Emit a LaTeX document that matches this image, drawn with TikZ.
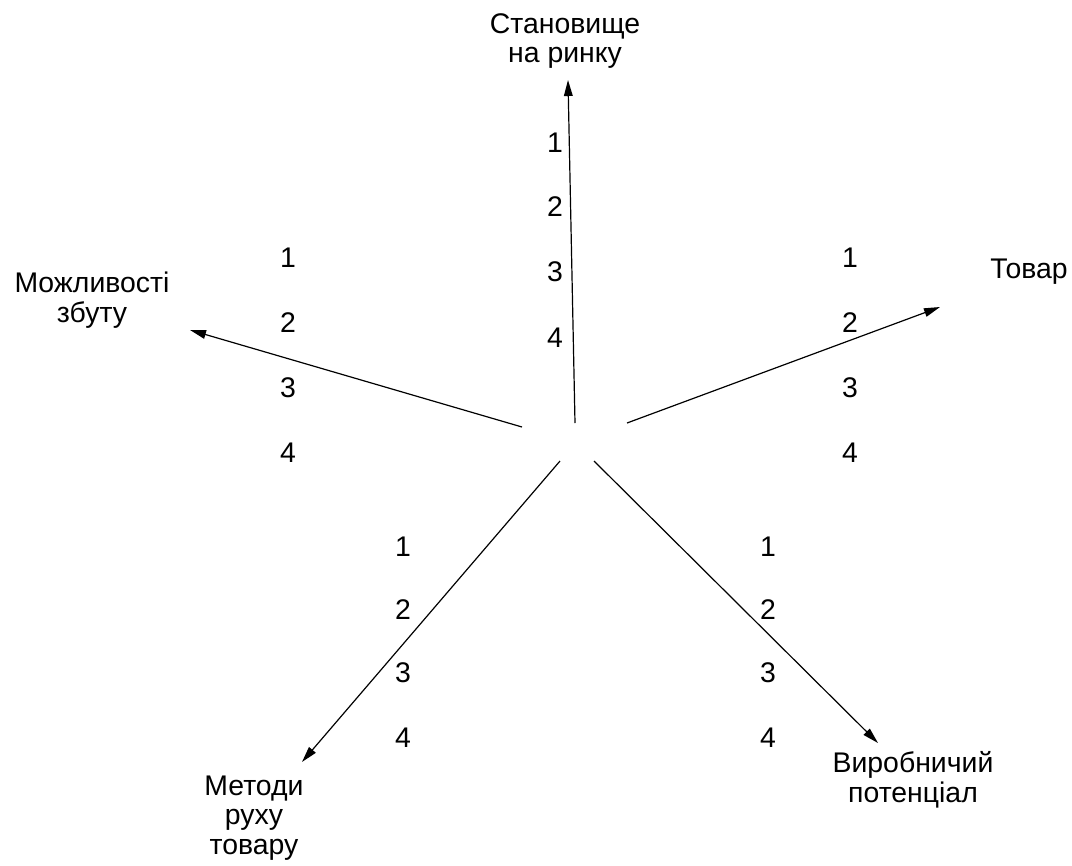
\documentclass[tikz,border=0pt]{standalone}
\usepackage{fontspec}
\setmainfont{Liberation Sans}
\usetikzlibrary{arrows.meta}

\begin{document}
\begin{tikzpicture}[
      x=0.75pt, y=-0.75pt,
      font=\fontsize{21.3}{22.3}\selectfont,
      lbl/.style={align=center, inner sep=0pt},
      num/.style={inner sep=0pt},
      ar/.style={-{Triangle[length=12pt,width=6.5pt]}, line width=0.9pt},
    ]
    \useasboundingbox (0,0) rectangle (1072,865);

    % axis labels
    \node[lbl] (rynok) at (565,41) {Становище\\на ринку};
    \node[lbl] (tovar) at (1029,272) {Товар};
    \node[lbl] (zbut) at (92,300) {Можливості\\збуту};
    \node[lbl] (metody) at (254,818) {Методи\\руху\\товару};
    \node[lbl] (potencial) at (913,780) {Виробничий\\потенціал};

    % arrow ends
    \coordinate (o1) at (575,423); \coordinate (e1) at (568,80);
    \coordinate (o2) at (627,423); \coordinate (e2) at (940,307);
    \coordinate (o3) at (522,427); \coordinate (e3) at (190,330);
    \coordinate (o4) at (560,461); \coordinate (e4) at (302,762);
    \coordinate (o5) at (594,461); \coordinate (e5) at (878,743);

    \draw[ar] (o1) -- (e1);
    \draw[ar] (o2) -- (e2);
    \draw[ar] (o3) -- (e3);
    \draw[ar] (o4) -- (e4);
    \draw[ar] (o5) -- (e5);

    % scale marks
    \foreach \i/\y in {1/143,2/207,3/272,4/338}
      \node[num] (up\i) at (555,\y) {\i};
    \foreach \i/\y in {1/258,2/323,3/388,4/453}{
      \node[num] (lt\i) at (288,\y) {\i};
      \node[num] (rt\i) at (850,\y) {\i};
    }
    \foreach \i/\y in {1/547,2/610,3/673,4/738}{
      \node[num] (dl\i) at (403,\y) {\i};
      \node[num] (dr\i) at (768,\y) {\i};
    }
  \end{tikzpicture}
\end{document}
